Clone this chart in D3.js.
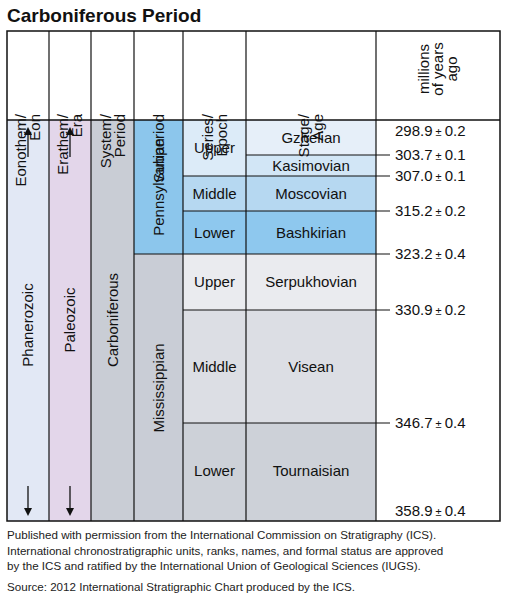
<!DOCTYPE html>
<html><head><meta charset="utf-8">
<script src="https://cdn.jsdelivr.net/npm/d3@7"></script>
<style>body{margin:0;background:#fff;font-family:"Liberation Sans",Arial,sans-serif}</style>
</head><body><svg id="c" width="507" height="599"></svg>
<script>
const headers = [["Eonothem/","Eon"],["Erathem/","Era"],["System/","Period"],["Subperiod"],["Series/","Epoch"],["Stage/","Age"],["millions","of years","ago"]];
const stages = ["Gzhelian","Kasimovian","Moscovian","Bashkirian","Serpukhovian","Visean","Tournaisian"];
const boundaries = [298.9,303.7,307.0,315.2,323.2,330.9,346.7,358.9];
const errors = [0.2,0.1,0.1,0.2,0.4,0.2,0.4,0.4];
const series = [{name:"Upper",from:0,to:2},{name:"Middle",from:2,to:3},{name:"Lower",from:3,to:4},
                {name:"Upper",from:4,to:5},{name:"Middle",from:5,to:6},{name:"Lower",from:6,to:7}];
const subperiods = [{name:"Pennsylvanian",from:0,to:4},{name:"Mississippian",from:4,to:7}];

const svg = d3.select("#c");
// layout: column edges and y position of each boundary
const colX = [7,49,91,134,183,246,376,500];
const y = d3.scaleLinear().domain(boundaries).range([120,155,176,211,254,310,423,521]);
const yHead = 31, headBottom = 120;
const yb = i => y(boundaries[i]);

const stageFill = ["#e6eff9","#d2e6f6","#b6d8f1","#8ec8ee","#eaebef","#dcdee4","#cdd1d8"];
const seriesFill = ["#dcebf8","#b6d8f1","#8ec8ee","#eaebef","#dcdee4","#cdd1d8"];

const yTop = yb(0), yBot = yb(7);
// big columns
["#e2e8f5","#e3d6ea","#c9cdd5"].forEach((c,i)=>{
  svg.append("rect").attr("x",colX[i]).attr("y",yTop).attr("width",colX[i+1]-colX[i]).attr("height",yBot-yTop).attr("fill",c);
});
svg.selectAll(".sp").data(subperiods).enter().append("rect")
  .attr("x",colX[3]).attr("y",d=>yb(d.from)).attr("width",colX[4]-colX[3]).attr("height",d=>yb(d.to)-yb(d.from))
  .attr("fill",(d,i)=>i? "#c9cdd6":"#8cc6ec");
svg.selectAll(".se").data(series).enter().append("rect")
  .attr("x",colX[4]).attr("y",d=>yb(d.from)).attr("width",colX[5]-colX[4]).attr("height",d=>yb(d.to)-yb(d.from))
  .attr("fill",(d,i)=>seriesFill[i]);
svg.selectAll(".st").data(stages).enter().append("rect")
  .attr("x",colX[5]).attr("y",(d,i)=>yb(i)).attr("width",colX[6]-colX[5]).attr("height",(d,i)=>yb(i+1)-yb(i))
  .attr("fill",(d,i)=>stageFill[i]);

const line = (x1,y1,x2,y2,w)=>svg.append("line").attr("x1",x1).attr("y1",y1).attr("x2",x2).attr("y2",y2).attr("stroke","#111").attr("stroke-width",w||1.2);
// outer frame + column lines
svg.append("rect").attr("x",colX[0]).attr("y",yHead).attr("width",colX[7]-colX[0]).attr("height",yBot-yHead).attr("fill","none").attr("stroke","#111").attr("stroke-width",1.5);
line(colX[0],headBottom,colX[7],headBottom,1.5);
colX.slice(1,-1).forEach(x=>line(x,yHead,x,yBot));
// boundary lines with ticks into the age column
line(colX[3],yb(4),colX[6]+14,yb(4));
series.forEach(s=>{ if(s.from>0 && s.from!==4) line(colX[4],yb(s.from),colX[6]+14,yb(s.from)); });
line(colX[5],yb(1),colX[6]+14,yb(1));

// headers (rotated)
headers.forEach((h,i)=>{
  const cx=(colX[i]+colX[i+1])/2;
  const g=svg.append("g").attr("transform",`translate(${cx},${headBottom-6}) rotate(-90)`);
  const n=h.length;
  h.forEach((t,j)=>g.append("text").attr("x",i===6?45:0).attr("y",(j-(n-1)/2)*14+5)
    .attr("text-anchor",i===6?"middle":"end").attr("font-size",15).attr("fill","#111").text(t));
});

const vtext=(x,yy,t)=>svg.append("text").attr("transform",`translate(${x},${yy}) rotate(-90)`).attr("text-anchor","middle")
  .attr("font-size",15).attr("fill","#111").attr("dy","0.35em").text(t);
vtext((colX[0]+colX[1])/2,325,"Phanerozoic");
vtext((colX[1]+colX[2])/2,320,"Paleozoic");
vtext((colX[2]+colX[3])/2,320,"Carboniferous");
subperiods.forEach((s,i)=>vtext((colX[3]+colX[4])/2,i?388:(yb(s.from)+yb(s.to))/2,s.name));
svg.selectAll(".sl").data(series).enter().append("text")
  .attr("x",(colX[4]+colX[5])/2).attr("y",d=>d.from===6?471:(yb(d.from)+yb(d.to))/2).attr("dy","0.35em")
  .attr("text-anchor","middle").attr("font-size",15).attr("fill","#111").text(d=>d.name);
svg.selectAll(".stl").data(stages).enter().append("text")
  .attr("x",(colX[5]+colX[6])/2).attr("y",(d,i)=>i===6?471:(yb(i)+yb(i+1))/2).attr("dy","0.35em")
  .attr("text-anchor","middle").attr("font-size",15).attr("fill","#111").text(d=>d);
// arrows
[0,1].forEach(i=>{
  const cx=(colX[i]+colX[i+1])/2;
  line(cx,yTop+14,cx,yTop+37,1.3);
  svg.append("path").attr("d",`M${cx-4},${yTop+15}L${cx},${yTop+7}L${cx+4},${yTop+15}Z`).attr("fill","#111");
  line(cx,yBot-35,cx,yBot-12,1.3);
  svg.append("path").attr("d",`M${cx-4},${yBot-13}L${cx},${yBot-5}L${cx+4},${yBot-13}Z`).attr("fill","#111");
});
// age labels
svg.selectAll(".age").data(boundaries).enter().append("text")
  .attr("x",395).attr("y",(d,i)=>i===0?yb(0)+11:i===7?yb(7)-10:y(d)).attr("dy","0.35em")
  .attr("font-size",15).attr("fill","#111")
  .html((d,i)=>`${d.toFixed(1)}<tspan font-size="11"> ± </tspan>${errors[i].toFixed(1)}`);

svg.append("text").attr("x",7).attr("y",22).attr("font-size",19).attr("font-weight","bold").attr("fill","#111").text("Carboniferous Period");
const notes=["Published with permission from the International Commission on Stratigraphy (ICS).",
"International chronostratigraphic units, ranks, names, and formal status are approved",
"by the ICS and ratified by the International Union of Geological Sciences (IUGS)."];
notes.forEach((t,i)=>svg.append("text").attr("x",7).attr("y",539+i*15.5).attr("font-size",11.6).attr("fill","#222").text(t));
svg.append("text").attr("x",7).attr("y",591).attr("font-size",11.6).attr("fill","#222").text("Source: 2012 International Stratigraphic Chart produced by the ICS.");
</script></body></html>
